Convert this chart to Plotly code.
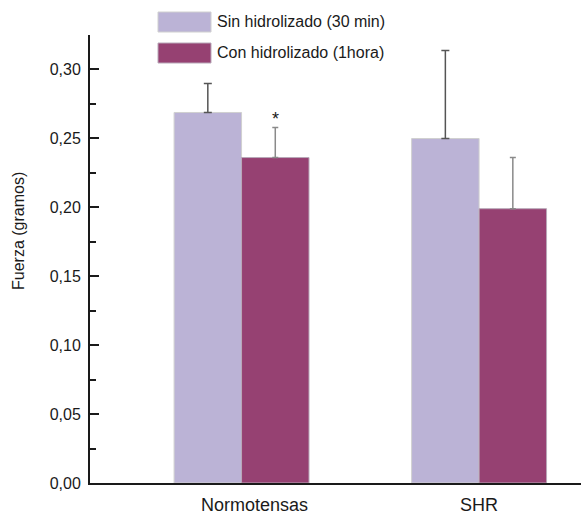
import plotly.graph_objects as go

categories = ["Normotensas", "SHR"]
series_names = ["Sin hidrolizado (30 min)", "Con hidrolizado (1hora)"]
sin_vals = [0.2688, 0.2499]
sin_err = [0.0210, 0.0639]
con_vals = [0.2361, 0.1990]
con_err = [0.0218, 0.0371]
y_ticks = [0.00, 0.05, 0.10, 0.15, 0.20, 0.25, 0.30]

W, H = 581, 515
L, R, T, B = 90, 0, 35, 32
pw, ph = W - L - R, H - T - B

def px(x):
    return (x - L) / pw

def py(y):
    return (H - B - y) / ph

c_light = "#BBB3D6"
c_dark = "#964172"
font = "Liberation Sans, Arial, sans-serif"
axc = "#1a1a1a"

fig = go.Figure()
fig.add_trace(go.Bar(
    x=categories, y=sin_vals, name=series_names[0],
    marker=dict(color=c_light, line=dict(color="#D0D0D0", width=1)),
    error_y=dict(type="data", array=sin_err, symmetric=False, arrayminus=[0, 0],
                 color="#555555", thickness=1.5, width=4),
))
fig.add_trace(go.Bar(
    x=categories, y=con_vals, name=series_names[1],
    marker=dict(color=c_dark, line=dict(color="#B8A8B8", width=1)),
    error_y=dict(type="data", array=con_err, symmetric=False, arrayminus=[0, 0],
                 color="#8A8A8A", thickness=1.5, width=3),
))

fig.update_layout(
    width=W, height=H,
    margin=dict(l=L, r=R, t=T, b=B, pad=0, autoexpand=False),
    paper_bgcolor="white", plot_bgcolor="white",
    barmode="group", bargap=0.432, bargroupgap=0,
    showlegend=False,
    separators=",.",
    font=dict(family=font, color=axc, size=16),
    xaxis=dict(
        range=[-0.638, 1.429], showline=True, linecolor=axc, linewidth=2,
        ticks="", showgrid=False, zeroline=False, automargin=False,
        showticklabels=False,
    ),
    yaxis=dict(
        range=[0, 0.325], tickvals=y_ticks, tickformat=".2f", automargin=False,
        showline=True, linecolor=axc, linewidth=2,
        ticks="inside", ticklen=9, tickwidth=2, tickcolor=axc,
        minor=dict(dtick=0.025, ticks="inside", ticklen=6, tickwidth=2, tickcolor=axc, showgrid=False),
        showgrid=False, zeroline=False, tickfont=dict(size=16), ticklabelstandoff=4,
    ),
)

# category labels (placed under each group)
label_shift = [13, 0]
for cat, sh in zip(categories, label_shift):
    fig.add_annotation(text=cat, xref="x", yref="paper", x=cat, y=0, yanchor="top",
                       xshift=sh, yshift=-10, showarrow=False, font=dict(size=18))

# y-axis title
fig.add_annotation(text="Fuerza (gramos)", xref="paper", yref="paper",
                   x=px(18), y=py(231), textangle=-90, showarrow=False,
                   font=dict(size=16), xanchor="center", yanchor="middle")

# significance star
fig.add_annotation(text="*", xref="x", yref="y", x=categories[0], y=con_vals[0] + con_err[0],
                   xshift=34, yshift=8, showarrow=False, font=dict(size=18))

# custom legend
boxes = [(158, 12, 211, 32, c_light, "#D0D0D0"), (158, 43, 211, 63, c_dark, "#B8A8B8")]
for (x0, y0, x1, y1, c, lc), name in zip(boxes, series_names):
    fig.add_shape(type="rect", xref="paper", yref="paper",
                  x0=px(x0), x1=px(x1), y0=py(y1), y1=py(y0),
                  fillcolor=c, line=dict(color=lc, width=1))
    fig.add_annotation(text=name, xref="paper", yref="paper",
                       x=px(215), y=py((y0 + y1) / 2), xanchor="left", yanchor="middle",
                       showarrow=False, font=dict(size=16))

fig.write_html("out.html", config={"displayModeBar": False},
               post_script="document.body.style.margin='0';")
